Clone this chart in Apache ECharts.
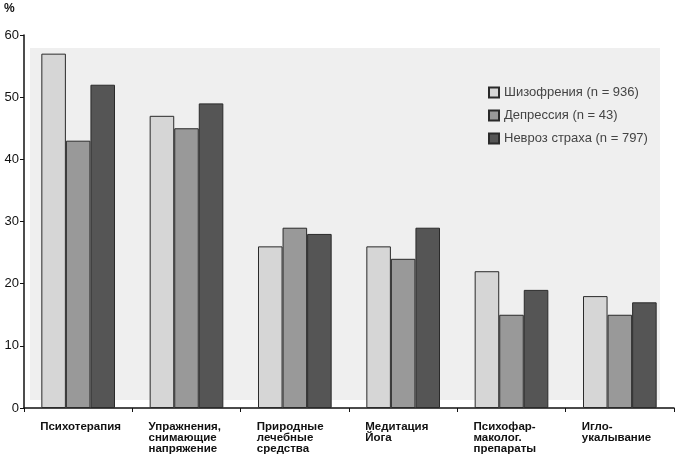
<!DOCTYPE html>
<html><head><meta charset="utf-8">
<script src="https://cdn.jsdelivr.net/npm/echarts@6/dist/echarts.min.js"></script>
<style>html,body{margin:0;padding:0;background:#fff}#c{width:675px;height:456px}</style>
</head><body><div id="c"></div>
<script>
const categories = ['Психотерапия', 'Упражнения,\nснимающие\nнапряжение', 'Природные\nлечебные\nсредства', 'Медитация\nЙога', 'Психофар-\nмаколог.\nпрепараты', 'Игло-\nукалывание'];
const seriesNames = ['Шизофрения (n = 936)', 'Депрессия (n = 43)', 'Невроз страха (n = 797)'];
const schizophrenia = [57, 47, 26, 26, 22, 18];
const depression = [43, 45, 29, 24, 15, 15];
const neurosis = [52, 49, 28, 29, 19, 17];
const yTicks = [0, 10, 20, 30, 40, 50, 60];

const colors = ['#d6d6d6', '#999999', '#555555'];
const chart = echarts.init(document.getElementById('c'));
const mk = (name, data, i) => ({
  name, type: 'bar', data, barGap: '0%', barCategoryGap: '32%',
  itemStyle: { color: colors[i], borderColor: '#2a2a2a', borderWidth: 1 },
  z: 3
});
chart.setOption({
  animation: false,
  textStyle: { fontFamily: 'Liberation Sans, Arial, sans-serif' },
  graphic: [
    { type: 'rect', shape: { x: 30, y: 48, width: 630, height: 352 }, style: { fill: '#efefef' }, z: -10 },
    { type: 'text', left: 4, top: 3, style: { text: '%', font: 'bold 12px Liberation Sans', fill: '#111' } }
  ],
  legend: {
    orient: 'vertical', left: 483, top: 81, itemWidth: 10, itemHeight: 10, itemGap: 10,
    icon: 'rect',
    textStyle: { fontSize: 13, color: '#444', fontFamily: 'Liberation Sans' },
    data: seriesNames
  },
  grid: { left: 24, right: 1, top: 35, bottom: 48, containLabel: false, outerBoundsMode: 'none' },
  xAxis: {
    type: 'category', data: categories,
    axisLine: { lineStyle: { color: '#111', width: 1.5 } },
    axisTick: { show: true, length: 4, lineStyle: { color: '#111' } },
    axisLabel: {
      interval: 0, align: 'left', margin: 13, padding: [0, 0, 0, -38],
      fontSize: 11.5, fontWeight: 'bold', color: '#111', lineHeight: 11
    }
  },
  yAxis: {
    type: 'value', min: yTicks[0], max: yTicks[yTicks.length - 1], interval: 10,
    axisLine: { show: true, lineStyle: { color: '#111', width: 1.5 } },
    axisTick: { show: true, length: 4, lineStyle: { color: '#111' } },
    splitLine: { show: false },
    axisLabel: { fontSize: 13, color: '#111', margin: 5 }
  },
  series: [mk(seriesNames[0], schizophrenia, 0), mk(seriesNames[1], depression, 1), mk(seriesNames[2], neurosis, 2)]
});
</script></body></html>
